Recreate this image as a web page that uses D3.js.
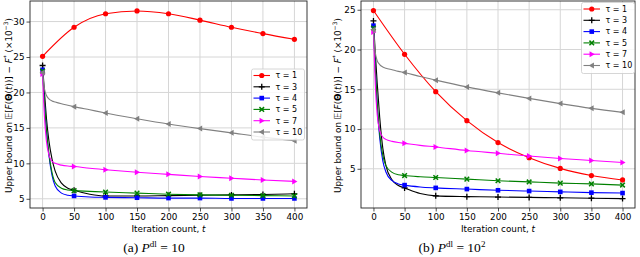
<!DOCTYPE html>
<html>
<head>
<meta charset="utf-8">
<script src="https://cdn.jsdelivr.net/npm/d3@7"></script>
<style>
  body { margin: 0; background: #fff; }
  text { font-family: "DejaVu Sans", sans-serif; fill: #000; }
</style>
</head>
<body>
<div id="chart"></div>
<script>
// data (values are x10^-3)
var tauLabels = ["τ = 1", "τ = 3", "τ = 4", "τ = 5", "τ = 7", "τ = 10"];
var tCoarse = [0, 50, 100, 150, 200, 250, 300, 350, 400];
var tFine = [0, 3, 6, 10, 15, 20, 30, 40, 50, 75, 100, 150, 200, 250, 300, 350, 400];
var xTicks = [0, 50, 100, 150, 200, 250, 300, 350, 400];

// panel (a) P^dl = 10
var a_tau1 = [25.1, 29.2, 31.1, 31.5, 31.1, 30.2, 29.2, 28.3, 27.5];
var a_tau3 = [23.8, 20.0, 16.5, 13.2, 10.6, 8.9, 7.2, 6.5, 6.2, 5.65, 5.4, 5.4, 5.45, 5.5, 5.55, 5.6, 5.7];
var a_tau4 = [23.2, 18.5, 14.8, 11.2, 8.3, 6.8, 5.8, 5.5, 5.4, 5.25, 5.2, 5.15, 5.1, 5.1, 5.05, 5.05, 5.05];
var a_tau5 = [23.0, 18.5, 14.9, 11.4, 8.7, 7.3, 6.5, 6.25, 6.15, 6.05, 5.95, 5.8, 5.65, 5.55, 5.5, 5.45, 5.4];
var a_tau7 = [22.6, 16.5, 13.2, 11.2, 10.3, 10.0, 9.75, 9.62, 9.55, 9.3, 9.1, 8.75, 8.45, 8.15, 7.9, 7.65, 7.45];
var a_tau10 = [22.8, 20.5, 19.6, 19.1, 18.8, 18.65, 18.4, 18.2, 18.0, 17.55, 17.1, 16.3, 15.55, 14.9, 14.3, 13.7, 13.2];
var a_yTicks = [5, 10, 15, 20, 25, 30];

// panel (b) P^dl = 10^2
var b_tau1 = [24.9, 19.4, 14.7, 11.05, 8.3, 6.4, 5.05, 4.15, 3.6];
var b_tau3 = [23.6, 19.5, 15.8, 11.5, 7.6, 5.4, 3.6, 2.9, 2.6, 1.9, 1.6, 1.5, 1.45, 1.4, 1.35, 1.3, 1.25];
var b_tau4 = [23.0, 17.5, 13.0, 8.9, 6.0, 4.6, 3.5, 3.1, 2.95, 2.72, 2.6, 2.45, 2.3, 2.2, 2.1, 2.0, 1.95];
var b_tau5 = [22.7, 17.5, 13.3, 9.4, 6.7, 5.4, 4.55, 4.25, 4.15, 4.0, 3.9, 3.7, 3.5, 3.35, 3.2, 3.1, 2.95];
var b_tau7 = [22.2, 15.5, 11.8, 9.8, 9.0, 8.7, 8.45, 8.3, 8.2, 7.95, 7.75, 7.3, 6.95, 6.6, 6.3, 6.05, 5.8];
var b_tau10 = [22.5, 19.6, 18.6, 18.1, 17.8, 17.65, 17.45, 17.25, 17.1, 16.6, 16.15, 15.3, 14.55, 13.85, 13.2, 12.6, 12.1];
var b_yTicks = [5, 10, 15, 20, 25];

var colors = ["#ff0000", "#000000", "#0000ff", "#008000", "#ff00ff", "#808080"];
var markers = ["circle", "plus", "square", "x", "triRight", "triLeft"];

var svg = d3.select("#chart")
  .append("svg")
  .attr("width", 640)
  .attr("height", 257);

svg.append("rect").attr("width", 640).attr("height", 257).attr("fill", "#fff");

function drawMarker(g, type, x, y, color) {
  var s = 2.6;
  if (type == "circle") {
    g.append("circle").attr("cx", x).attr("cy", y).attr("r", s).attr("fill", color);
  } else if (type == "square") {
    g.append("rect").attr("x", x - s + 0.3).attr("y", y - s + 0.3)
      .attr("width", 2 * s - 0.6).attr("height", 2 * s - 0.6).attr("fill", color);
  } else if (type == "plus") {
    g.append("path").attr("d", `M${x - 3},${y}H${x + 3}M${x},${y - 3}V${y + 3}`)
      .attr("stroke", color).attr("stroke-width", 1.3);
  } else if (type == "x") {
    g.append("path").attr("d", `M${x - 2.3},${y - 2.3}L${x + 2.3},${y + 2.3}M${x - 2.3},${y + 2.3}L${x + 2.3},${y - 2.3}`)
      .attr("stroke", color).attr("stroke-width", 1.5);
  } else if (type == "triRight") {
    g.append("path").attr("d", `M${x + 3},${y}L${x - 2.2},${y - 3}L${x - 2.2},${y + 3}Z`).attr("fill", color);
  } else if (type == "triLeft") {
    g.append("path").attr("d", `M${x - 3},${y}L${x + 2.2},${y - 3}L${x + 2.2},${y + 3}Z`).attr("fill", color);
  }
}

function drawPanel(p) {
  var x = d3.scaleLinear().domain([-20, 420]).range([p.left, p.right]);
  var y = d3.scaleLinear().domain(p.yDomain).range([p.bottom, p.top]);
  var g = svg.append("g");

  // grid
  g.selectAll(".gx").data(xTicks).enter().append("line")
    .attr("x1", d => x(d)).attr("x2", d => x(d))
    .attr("y1", p.top).attr("y2", p.bottom)
    .attr("stroke", "#d6d6d6").attr("stroke-width", 1);
  g.selectAll(".gy").data(p.yTicks).enter().append("line")
    .attr("y1", d => y(d)).attr("y2", d => y(d))
    .attr("x1", p.left).attr("x2", p.right)
    .attr("stroke", "#d6d6d6").attr("stroke-width", 1);

  // series
  p.series.forEach(function(vals, i) {
    var ts = (vals.length == tCoarse.length) ? tCoarse : tFine;
    var pts = ts.map((t, k) => [t, vals[k]]);
    var line = d3.line().x(d => x(d[0])).y(d => y(d[1])).curve(d3.curveMonotoneX);
    g.append("path").attr("d", line(pts))
      .attr("fill", "none").attr("stroke", colors[i]).attr("stroke-width", 1.1);
    pts.filter(d => d[0] % 50 == 0).forEach(function(d) {
      drawMarker(g, markers[i], x(d[0]), y(d[1]), colors[i]);
    });
  });

  // axes
  var xAxis = d3.axisBottom(x).tickValues(xTicks).tickSize(3.5).tickPadding(2);
  var yAxis = d3.axisLeft(y).tickValues(p.yTicks).tickSize(3.5).tickPadding(2);
  var gx = g.append("g").attr("transform", `translate(0,${p.bottom})`).call(xAxis);
  var gy = g.append("g").attr("transform", `translate(${p.left},0)`).call(yAxis);
  [gx, gy].forEach(function(a) {
    a.select(".domain").remove();
    a.selectAll("text").attr("font-size", "8.8px").attr("font-family", "DejaVu Sans");
    a.selectAll("line").attr("stroke", "#222").attr("stroke-width", 0.8);
  });

  g.append("rect").attr("x", p.left).attr("y", p.top)
    .attr("width", p.right - p.left).attr("height", p.bottom - p.top)
    .attr("fill", "none").attr("stroke", "#222").attr("stroke-width", 0.9);

  // legend
  var lg = g.append("g");
  lg.append("rect").attr("x", p.legX).attr("y", p.legY).attr("rx", 2)
    .attr("width", 53).attr("height", 71)
    .attr("fill", "#fff").attr("fill-opacity", 0.85).attr("stroke", "#cccccc").attr("stroke-width", 0.8);
  tauLabels.forEach(function(lab, i) {
    var yy = p.legY + 6.5 + i * 11.3;
    lg.append("line").attr("x1", p.legX + 2).attr("x2", p.legX + 18.5)
      .attr("y1", yy).attr("y2", yy).attr("stroke", colors[i]).attr("stroke-width", 1.1);
    drawMarker(lg, markers[i], p.legX + 10.25, yy, colors[i]);
    lg.append("text").attr("x", p.legX + 24).attr("y", yy).attr("dy", "0.35em")
      .attr("font-size", "8px").text(lab);
  });

  // axis labels
  g.append("text").attr("x", (x(0) + x(400)) / 2).attr("y", 232)
    .attr("text-anchor", "middle").attr("font-size", "8.8px")
    .html('Iteration count, <tspan font-style="italic">t</tspan>');

  var yl = g.append("text")
    .attr("transform", `translate(${p.yLabelX},${(p.top + p.bottom) / 2 + 1}) rotate(-90)`)
    .attr("text-anchor", "middle").attr("font-size", "8.8px");
  yl.append("tspan").text("Upper bound on 𝔼[");
  yl.append("tspan").attr("font-style", "italic").text("F");
  yl.append("tspan").text("(");
  yl.append("tspan").attr("font-weight", "bold").text("Θ");
  yl.append("tspan").text("(");
  yl.append("tspan").attr("font-style", "italic").text("t");
  yl.append("tspan").text("))] − ");
  yl.append("tspan").attr("font-style", "italic").text("F");
  yl.append("tspan").attr("font-size", "6px").attr("dy", "-3.5").text("*");
  yl.append("tspan").attr("dy", "3.5").text(" (×10");
  yl.append("tspan").attr("font-size", "6px").attr("dy", "-3.5").text("−3");
  yl.append("tspan").attr("dy", "3.5").text(")");

  // caption
  var cap = g.append("text").attr("x", p.capX).attr("y", 252)
    .attr("text-anchor", "middle").attr("font-size", "13.5px")
    .style("font-family", "'Liberation Serif', 'DejaVu Serif', serif");
  cap.append("tspan").text(p.capPrefix + " ");
  cap.append("tspan").attr("font-style", "italic").text("P");
  cap.append("tspan").attr("font-size", "9px").attr("dy", "-5").text("dl");
  cap.append("tspan").attr("dy", "5").text(" = 10");
  if (p.capExp) {
    cap.append("tspan").attr("font-size", "9px").attr("dy", "-5").text(p.capExp);
  }
}

drawPanel({
  left: 30, right: 307, top: 1, bottom: 208,
  yDomain: [3.7, 32.9], yTicks: a_yTicks,
  series: [a_tau1, a_tau3, a_tau4, a_tau5, a_tau7, a_tau10],
  legX: 251.5, legY: 69, yLabelX: 11.5, capX: 154, capPrefix: "(a)", capExp: null
});

drawPanel({
  left: 361, right: 635, top: 1, bottom: 208,
  yDomain: [0.07, 26.1], yTicks: b_yTicks,
  series: [b_tau1, b_tau3, b_tau4, b_tau5, b_tau7, b_tau10],
  legX: 581.5, legY: 2.5, yLabelX: 340.5, capX: 452, capPrefix: "(b)", capExp: "2"
});
</script>
</body>
</html>
